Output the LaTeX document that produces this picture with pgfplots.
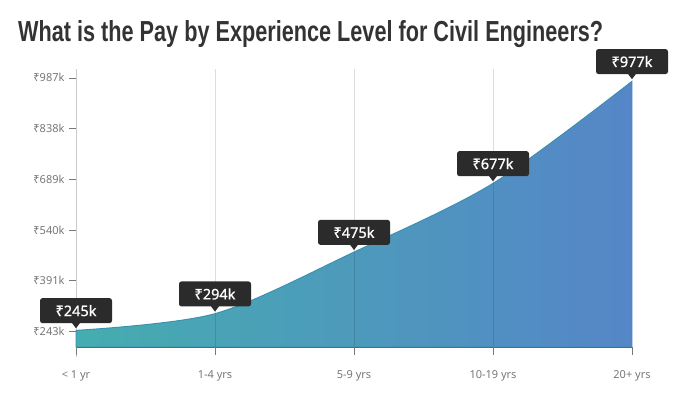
\documentclass[border=0pt]{standalone}
\usepackage{fontspec}
\setmainfont{Noto Sans}
\newfontfamily\titlefont{Liberation Sans}
\newfontfamily\tipfont[FakeBold=0.8]{Noto Sans}
\usepackage{pgfplots}
\pgfplotsset{compat=1.18}
\usetikzlibrary{shapes.geometric}
\definecolor{leftc}{HTML}{45ADAF}
\definecolor{rightc}{HTML}{5586C8}
\definecolor{strokec}{HTML}{3A8FB0}
\definecolor{tipc}{HTML}{2B2B2B}
\definecolor{labc}{HTML}{777777}
\definecolor{gridc}{HTML}{DDDDDD}
\definecolor{titc}{HTML}{333333}
\begin{document}
\begin{tikzpicture}[x=1pt,y=1pt]
\useasboundingbox (0,0) rectangle (677,405);
\node[anchor=base west, inner sep=0pt, text=titc] at (18,363) {\resizebox{585pt}{21pt}{\titlefont\bfseries What is the Pay by Experience Level for Civil Engineers?}};
\begin{axis}[
  at={(76pt,58pt)}, anchor=south west,
  width=556pt, height=278pt, scale only axis,
  xmin=0, xmax=4, ymin=196, ymax=1013,
  axis x line=none,
  axis y line*=left,
  y axis line style={draw=gridc!80!gray, line width=0.8pt},
  ytick={243,391,540,689,838,987},
  yticklabels={₹243k,₹391k,₹540k,₹689k,₹838k,₹987k},
  tick label style={font=\fontsize{11}{13}\selectfont, text=labc},
  ytick style={draw=labc, line width=0.6pt},
  tick align=outside,
  major tick length=7pt,
  yticklabel style={xshift=-1pt},
  clip=false,
  unbounded coords=jump,
]
% vertical grid lines
\addplot[gridc, line width=0.8pt, forget plot] coordinates {(1,1013) (1,196) (2,nan) (2,1013) (2,196) (3,nan) (3,1013) (3,196)};
% left axis extension below baseline
\addplot[gridc!80!gray, line width=0.8pt, forget plot] coordinates {(0,196) (0,166)};
% area
\addplot[draw=strokec, line width=0.9pt, left color=leftc, right color=rightc, smooth, tension=0.5, forget plot]
  coordinates {(0,245) (1,294) (2,475) (3,677) (4,977)} \closedcycle;
% bottom edge and right edge
\addplot[draw=rightc!80!black, line width=0.6pt, forget plot] coordinates {(0,196) (4,196)};
\addplot[draw=rightc!40!white, line width=1pt, forget plot] coordinates {(4,977) (4,196)};
% faint grid over area
\addplot[black, opacity=0.12, line width=0.6pt, forget plot] coordinates {(1,294) (1,196) (2,nan) (2,475) (2,196) (3,nan) (3,677) (3,196)};
% x ticks below axis
\addplot[labc, line width=0.6pt, forget plot] coordinates {(0,196) (0,172) (1,nan) (1,196) (1,172) (2,nan) (2,196) (2,172) (3,nan) (3,196) (3,172) (4,nan) (4,196) (4,172)};
% x tick labels
\addplot[draw=none, forget plot,
  nodes near coords, point meta=explicit symbolic,
  every node near coord/.style={font=\fontsize{11}{13}\selectfont, text=labc, anchor=center, yshift=-29pt}]
  coordinates {(0,196)[< 1 yr] (1,196)[1-4 yrs] (2,196)[5-9 yrs] (3,196)[10-19 yrs] (4,196)[20+ yrs]};
% tooltip pointers
\addplot[draw=none, forget plot,
  nodes near coords={}, 
  every node near coord/.style={isosceles triangle, shape border rotate=270, anchor=apex,
    fill=tipc, inner sep=0pt, minimum width=9pt, minimum height=6pt, isosceles triangle stretches, yshift=1.5pt}]
  coordinates {(0,245) (1,294) (2,475) (3,677) (4,977)};
% tooltip boxes
\addplot[draw=none, forget plot,
  nodes near coords, point meta=explicit symbolic,
  every node near coord/.style={rectangle, fill=tipc, text=white,
    font=\tipfont\fontsize{14.5}{16}\selectfont, minimum width=72pt, minimum height=25pt,
    inner sep=2pt, rounded corners=2.5pt, anchor=south, yshift=7pt}]
  coordinates {(0,245)[₹245k] (1,294)[₹294k] (2,475)[₹475k] (3,677)[₹677k] (4,977)[₹977k]};
\end{axis}
\end{tikzpicture}
\end{document}
